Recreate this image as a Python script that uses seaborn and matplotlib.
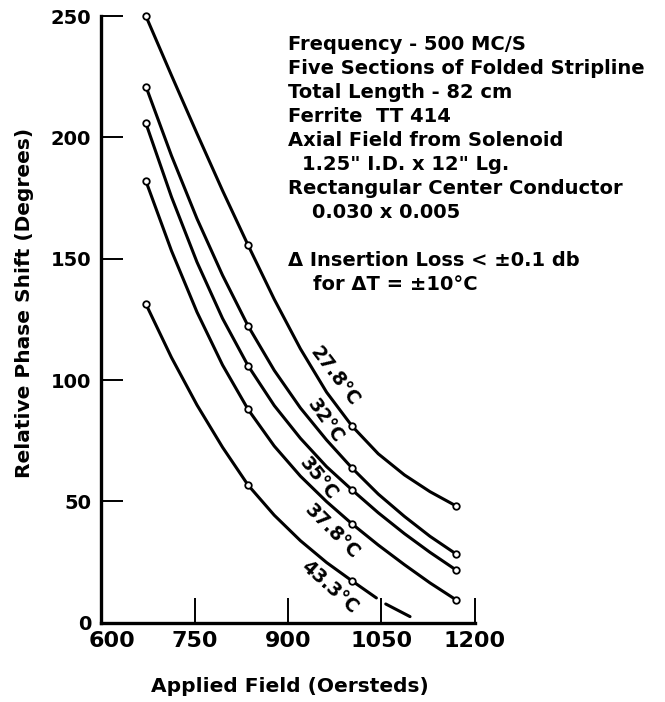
import numpy as np
import pandas as pd
import seaborn as sns
import matplotlib.pyplot as plt
from matplotlib.transforms import ScaledTranslation

# measured points (open circles)
field_meas = [672, 836, 1003, 1170]
meas_278 = [250, 155.6, 81, 48.1]
meas_32 = [221, 122.3, 63.7, 28.3]
meas_35 = [205.8, 105.9, 54.7, 21.7]
meas_378 = [182, 87.9, 40.7, 9.4]
field_meas_433 = [672, 836, 1003]
meas_433 = [131.3, 56.7, 17.2]

# curve traces
field_trace = [672, 713, 754, 795, 836, 878, 920, 962, 1003, 1045, 1087, 1128, 1170]
trace_278 = [250, 225.6, 201.6, 178.1, 155.6, 133.3, 112.9, 95.0, 81.0, 69.6, 60.9, 54.0, 48.1]
trace_32 = [221, 192.5, 166.5, 143.2, 122.3, 104.0, 88.5, 75.3, 63.7, 53.0, 43.8, 35.6, 28.3]
trace_35 = [205.8, 175.5, 148.6, 125.4, 105.9, 89.5, 76.0, 64.3, 54.7, 45.3, 36.7, 29.0, 21.7]
trace_378 = [182, 153.3, 128.0, 106.2, 87.9, 72.8, 60.4, 49.9, 40.7, 32.0, 23.9, 16.4, 9.4]
field_trace_433 = [672, 713, 754, 795, 836, 878, 920, 962, 1003, 1042]
trace_433 = [131.3, 109.3, 89.7, 72.3, 56.7, 44.3, 33.8, 24.8, 17.2, 10.2]
field_tail_433 = [1057, 1096]
tail_433 = [7.7, 2.5]

temp_labels = ['27.8°C', '32°C', '35°C', '37.8°C', '43.3°C']

x_ticks = [600, 750, 900, 1050, 1200]
y_ticks = [0, 50, 100, 150, 200, 250]

notes = ['Frequency - 500 MC/S',
         'Five Sections of Folded Stripline',
         'Total Length - 82 cm',
         'Ferrite  TT 414',
         'Axial Field from Solenoid',
         '1.25" I.D. x 12" Lg.',
         'Rectangular Center Conductor',
         '0.030 x 0.005',
         'Δ Insertion Loss < ±0.1 db',
         'for ΔT = ±10°C']

sns.set_style('ticks')
plt.rcParams['font.family'] = ['DejaVu Sans']
plt.rcParams['text.color'] = 'black'
plt.rcParams['axes.labelcolor'] = 'black'

fig = plt.figure(figsize=(6.65, 7.02), dpi=100)
ax = fig.add_axes([0.152, 0.113, 0.562, 0.864])

traces = [(field_trace, trace_278), (field_trace, trace_32), (field_trace, trace_35),
          (field_trace, trace_378), (field_trace_433, trace_433), (field_tail_433, tail_433)]
for fx, fy in traces:
    sns.lineplot(x=fx, y=fy, color='black', lw=2.2, sort=False, estimator=None, ax=ax)

marks = [(field_meas, meas_278), (field_meas, meas_32), (field_meas, meas_35),
         (field_meas, meas_378), (field_meas_433, meas_433)]
for fx, fy in marks:
    sns.scatterplot(x=fx, y=fy, s=22, facecolor='white', edgecolor='black',
                    linewidth=1.3, zorder=3, clip_on=False, ax=ax)

# curve labels along the lines
label_pos = [(975, 101.5, -53), (960, 83, -55), (949, 59.5, -51), (971, 37.5, -45), (967, 14.8, -42)]
for lab, (lx, ly, rot) in zip(temp_labels, label_pos):
    ax.text(lx, ly, lab, rotation=rot, rotation_mode='anchor', ha='center', va='center',
            fontsize=13.5, fontweight='bold', color='black')

ax.set_xlim(600, 1200)
ax.set_ylim(0, 250)
ax.set_xticks(x_ticks)
ax.set_yticks(y_ticks)
sns.despine(ax=ax)
for side in ['left', 'bottom']:
    ax.spines[side].set_linewidth(2.4)
    ax.spines[side].set_color('black')
ax.tick_params(axis='x', direction='in', length=18, width=1.4, labelsize=16, pad=6, colors='black')
ax.tick_params(axis='y', direction='in', length=16, width=1.4, labelsize=14, pad=7, colors='black')
for t in ax.get_xticklabels() + ax.get_yticklabels():
    t.set_fontweight('bold')

# the "600" label sits a bit right of its tick, clear of the "0"
first = ax.xaxis.get_major_ticks()[0].label1
first.set_transform(first.get_transform() + ScaledTranslation(0.11, 0, fig.dpi_scale_trans))

ax.set_xlabel('Applied Field (Oersteds)', fontsize=14.5, fontweight='bold')
ax.set_ylabel('Relative Phase Shift (Degrees)', fontsize=14.5, fontweight='bold')
ax.xaxis.set_label_coords(0.505, -0.106)
ax.xaxis.label.set_va('center')
ax.yaxis.set_label_coords(-0.206, 0.527)
ax.yaxis.label.set_va('center')

# notes block, pixel positions of each line
note_pos = [(288, 50), (288, 74), (288, 98), (288, 122), (288, 146),
            (302, 170), (288, 194), (312, 218), (288, 266), (313, 290)]
for txt, (px, py) in zip(notes, note_pos):
    fig.text(px / 665, 1 - py / 702, txt, fontsize=14, fontweight='bold', va='baseline', ha='left')

fig.savefig('out.png', dpi=100)
